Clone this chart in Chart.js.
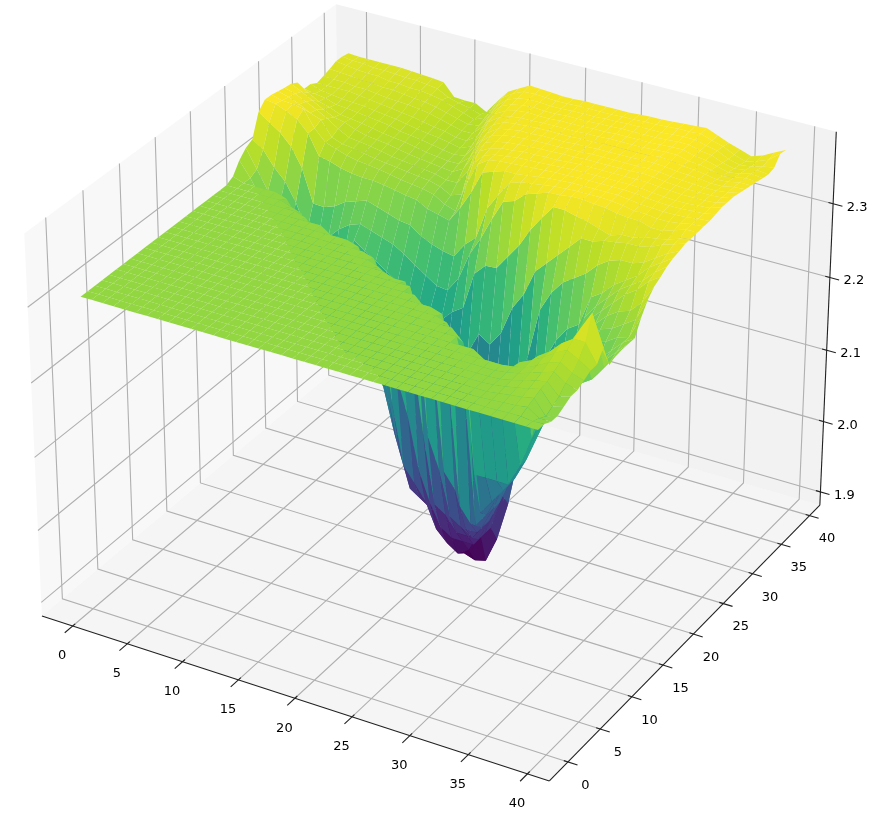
<!DOCTYPE html>
<html><head><meta charset="utf-8">
<style>html,body{margin:0;padding:0;background:#fff}canvas{display:block}</style>
<script src="https://cdn.jsdelivr.net/npm/chart.js@4/dist/chart.umd.min.js"></script>
</head><body><canvas id="c" width="872" height="818"></canvas>
<script>
const xTicks=[0,5,10,15,20,25,30,35,40];
const yTicks=[0,5,10,15,20,25,30,35,40];
const zTicks=[1.9,2.0,2.1,2.2,2.3];
const zTickLabels=["1.9","2.0","2.1","2.2","2.3"];
const xLim=[-2.84,41.84], yLim=[-2.84,41.84], zLim=[1.881,2.396];
const gridSpan=39;
// surface heights: one list per x position, each holding 41 y positions
const zColumns=[
[2.305,2.305,2.305,2.305,2.305,2.305,2.305,2.305,2.305,2.305, 2.305,2.305,2.305,2.305,2.305,2.305,2.305,2.305,2.305,2.305, 2.305,2.305,2.31,2.325,2.335,2.34,2.37,2.38,2.38,2.378, 2.376,2.375,2.37,2.355,2.355,2.35,2.353,2.356,2.36,2.36,2.358],
[2.305,2.305,2.305,2.305,2.305,2.305,2.305,2.305,2.305,2.305, 2.305,2.305,2.305,2.305,2.305,2.305,2.305,2.305,2.305,2.305, 2.305,2.305,2.305,2.305,2.31,2.33,2.36,2.378,2.376,2.374, 2.372,2.368,2.36,2.352,2.35,2.35,2.352,2.355,2.358,2.358,2.357],
[2.305,2.305,2.305,2.305,2.305,2.305,2.305,2.305,2.305,2.305, 2.305,2.305,2.305,2.305,2.305,2.305,2.305,2.305,2.305,2.305, 2.305,2.305,2.305,2.28,2.285,2.31,2.35,2.372,2.375,2.368, 2.365,2.36,2.352,2.35,2.348,2.35,2.352,2.354,2.356,2.358,2.357],
[2.305,2.305,2.305,2.305,2.305,2.305,2.305,2.305,2.305,2.305, 2.305,2.305,2.305,2.305,2.305,2.305,2.305,2.305,2.305,2.305, 2.305,2.305,2.305,2.26,2.265,2.295,2.335,2.365,2.372,2.36, 2.358,2.352,2.348,2.345,2.346,2.35,2.35,2.352,2.355,2.356,2.357],
[2.305,2.305,2.305,2.305,2.305,2.305,2.305,2.305,2.305,2.305, 2.305,2.305,2.305,2.305,2.305,2.305,2.305,2.305,2.305,2.305, 2.305,2.305,2.305,2.24,2.24,2.27,2.31,2.35,2.35,2.355, 2.35,2.345,2.342,2.344,2.345,2.348,2.35,2.352,2.355,2.356,2.357],
[2.305,2.305,2.305,2.305,2.305,2.305,2.305,2.305,2.305,2.305, 2.305,2.305,2.305,2.305,2.305,2.305,2.305,2.305,2.305,2.305, 2.305,2.305,2.30,2.21,2.21,2.235,2.266,2.323,2.335,2.335, 2.34,2.342,2.34,2.342,2.344,2.346,2.348,2.35,2.352,2.355,2.357],
[2.305,2.305,2.305,2.305,2.305,2.305,2.305,2.305,2.305,2.305, 2.305,2.305,2.305,2.305,2.305,2.305,2.305,2.305,2.305,2.305, 2.305,2.30,2.28,2.19,2.19,2.225,2.265,2.32,2.33,2.33, 2.332,2.336,2.338,2.34,2.342,2.344,2.346,2.35,2.352,2.354,2.356],
[2.305,2.305,2.305,2.305,2.305,2.305,2.305,2.305,2.305,2.305, 2.305,2.305,2.305,2.305,2.305,2.305,2.305,2.305,2.305,2.305, 2.305,2.295,2.24,2.16,2.19,2.235,2.27,2.315,2.325,2.328, 2.33,2.332,2.335,2.338,2.34,2.342,2.345,2.348,2.35,2.354,2.355],
[2.305,2.305,2.305,2.305,2.305,2.305,2.305,2.305,2.305,2.305, 2.305,2.305,2.305,2.305,2.305,2.305,2.305,2.305,2.305,2.305, 2.30,2.26,2.16,2.15,2.2,2.25,2.28,2.312,2.322,2.325, 2.328,2.33,2.332,2.336,2.338,2.34,2.344,2.346,2.35,2.352,2.354],
[2.305,2.305,2.305,2.305,2.305,2.305,2.305,2.305,2.305,2.305, 2.305,2.305,2.305,2.305,2.305,2.305,2.305,2.305,2.305,2.305, 2.285,2.17,2.14,2.16,2.22,2.26,2.285,2.31,2.32,2.322, 2.325,2.328,2.33,2.332,2.335,2.338,2.342,2.345,2.348,2.35,2.352],
[2.305,2.305,2.305,2.305,2.305,2.305,2.305,2.305,2.305,2.305, 2.305,2.305,2.305,2.305,2.305,2.305,2.305,2.305,2.305,2.305, 2.24,2.14,2.15,2.2,2.25,2.265,2.29,2.31,2.318,2.32, 2.322,2.325,2.328,2.33,2.332,2.335,2.34,2.342,2.345,2.342,2.336],
[2.305,2.305,2.305,2.305,2.305,2.305,2.305,2.305,2.305,2.305, 2.305,2.305,2.305,2.305,2.305,2.305,2.305,2.305,2.305,2.295, 2.16,2.12,2.13,2.19,2.24,2.26,2.285,2.308,2.315,2.318, 2.32,2.322,2.325,2.328,2.33,2.332,2.336,2.338,2.34,2.338,2.335],
[2.305,2.305,2.305,2.305,2.305,2.305,2.305,2.305,2.305,2.305, 2.305,2.305,2.305,2.305,2.305,2.305,2.305,2.305,2.305,2.29, 2.13,2.12,2.12,2.18,2.23,2.255,2.28,2.305,2.312,2.316, 2.318,2.32,2.322,2.325,2.328,2.33,2.332,2.334,2.335,2.335,2.335],
[2.305,2.305,2.305,2.305,2.305,2.305,2.305,2.305,2.305,2.305, 2.305,2.305,2.305,2.305,2.305,2.305,2.305,2.305,2.305,2.27, 2.13,2.11,2.11,2.17,2.22,2.25,2.275,2.302,2.31,2.314, 2.316,2.318,2.32,2.322,2.325,2.326,2.328,2.33,2.33,2.33,2.327],
[2.305,2.305,2.305,2.305,2.305,2.305,2.305,2.305,2.305,2.305, 2.305,2.305,2.305,2.305,2.305,2.305,2.305,2.305,2.30,2.25, 2.13,2.11,2.1,2.16,2.21,2.241,2.273,2.30,2.308,2.312, 2.314,2.316,2.318,2.32,2.322,2.325,2.328,2.332,2.336,2.34,2.345],
[2.305,2.305,2.305,2.305,2.305,2.305,2.305,2.305,2.305,2.305, 2.305,2.305,2.305,2.305,2.305,2.305,2.305,2.305,2.27,2.2, 2.1,2.07,2.09,2.15,2.2,2.23,2.262,2.292,2.304,2.308, 2.31,2.314,2.318,2.322,2.328,2.335,2.342,2.35,2.355,2.36,2.362],
[2.305,2.305,2.305,2.305,2.305,2.305,2.305,2.305,2.305,2.305, 2.305,2.305,2.305,2.305,2.305,2.305,2.305,2.30,2.2,2.1, 2.04,2.03,2.07,2.13,2.19,2.22,2.255,2.288,2.295,2.3, 2.31,2.322,2.33,2.34,2.35,2.358,2.362,2.366,2.368,2.37,2.37],
[2.305,2.305,2.305,2.305,2.305,2.305,2.305,2.305,2.305,2.305, 2.305,2.305,2.305,2.305,2.305,2.305,2.30,2.27,2.1,2.03, 1.99,2.0,2.05,2.12,2.185,2.21,2.25,2.284,2.29,2.305, 2.33,2.345,2.355,2.36,2.365,2.368,2.37,2.372,2.374,2.376,2.378],
[2.305,2.305,2.305,2.305,2.305,2.305,2.305,2.305,2.305,2.305, 2.305,2.305,2.305,2.305,2.305,2.305,2.29,2.15,2.02,1.98, 1.97,1.99,2.04,2.11,2.175,2.208,2.247,2.305,2.33,2.35, 2.36,2.365,2.368,2.37,2.372,2.373,2.374,2.375,2.376,2.377,2.377],
[2.305,2.305,2.305,2.305,2.305,2.305,2.305,2.305,2.305,2.305, 2.305,2.305,2.305,2.305,2.305,2.30,2.2,2.1,2.0,1.97, 1.96,1.985,2.05,2.12,2.19,2.228,2.267,2.33,2.36,2.365, 2.368,2.37,2.372,2.373,2.374,2.375,2.376,2.376,2.376,2.376,2.376],
[2.305,2.305,2.305,2.305,2.305,2.305,2.305,2.305,2.305,2.305, 2.305,2.305,2.305,2.305,2.305,2.30,2.2,2.03,1.98,1.96, 1.95,1.98,2.05,2.13,2.2,2.265,2.28,2.36,2.37,2.37, 2.372,2.373,2.374,2.375,2.375,2.375,2.375,2.375,2.375,2.375,2.375],
[2.305,2.305,2.305,2.305,2.305,2.305,2.305,2.305,2.305,2.305, 2.305,2.305,2.305,2.305,2.305,2.26,2.09,1.99,1.945,1.935, 1.94,1.98,2.06,2.15,2.25,2.29,2.323,2.365,2.372,2.372, 2.373,2.374,2.375,2.375,2.376,2.376,2.375,2.375,2.375,2.375,2.375],
[2.305,2.305,2.305,2.305,2.305,2.305,2.305,2.305,2.305,2.305, 2.305,2.305,2.305,2.305,2.26,2.1,2.0,1.96,1.93,1.925, 1.94,1.99,2.08,2.18,2.265,2.32,2.345,2.37,2.373,2.374, 2.375,2.375,2.376,2.376,2.376,2.376,2.376,2.376,2.376,2.376,2.376],
[2.305,2.305,2.305,2.305,2.305,2.305,2.305,2.305,2.305,2.305, 2.305,2.305,2.305,2.29,2.22,2.06,1.99,1.95,1.92,1.912, 1.935,2.0,2.08,2.17,2.266,2.347,2.365,2.37,2.374,2.375, 2.375,2.376,2.376,2.376,2.376,2.376,2.376,2.376,2.376,2.376,2.376],
[2.305,2.305,2.305,2.305,2.305,2.305,2.305,2.305,2.305,2.305, 2.305,2.305,2.305,2.26,2.07,2.0,1.97,1.95,1.93,1.907, 1.94,2.01,2.09,2.19,2.285,2.352,2.37,2.372,2.375,2.375, 2.376,2.376,2.376,2.376,2.376,2.376,2.376,2.376,2.376,2.376,2.376],
[2.305,2.305,2.305,2.305,2.305,2.305,2.305,2.305,2.305,2.305, 2.305,2.305,2.30,2.2,2.05,1.99,1.97,1.95,1.96,1.911, 1.95,2.03,2.1,2.228,2.304,2.365,2.372,2.374,2.376,2.376, 2.376,2.377,2.377,2.377,2.377,2.377,2.377,2.377,2.377,2.376,2.376],
[2.305,2.305,2.305,2.305,2.305,2.305,2.305,2.305,2.305,2.305, 2.305,2.30,2.25,2.04,2.0,1.98,1.97,1.97,1.97,1.946, 1.99,2.06,2.13,2.25,2.329,2.37,2.374,2.376,2.377,2.377, 2.377,2.377,2.377,2.377,2.377,2.377,2.377,2.377,2.377,2.377,2.376],
[2.305,2.305,2.305,2.305,2.305,2.305,2.305,2.305,2.305,2.305, 2.305,2.28,2.2,2.02,2.0,2.0,2.0,2.01,2.02,2.0, 2.04,2.09,2.18,2.285,2.349,2.375,2.376,2.377,2.377,2.378, 2.378,2.378,2.378,2.378,2.378,2.378,2.378,2.378,2.378,2.377,2.377],
[2.305,2.305,2.305,2.305,2.305,2.305,2.305,2.305,2.305,2.305, 2.29,2.2,2.03,2.02,2.02,2.03,2.04,2.05,2.06,2.077, 2.09,2.14,2.245,2.30,2.367,2.376,2.377,2.378,2.378,2.378, 2.378,2.378,2.378,2.378,2.378,2.378,2.378,2.378,2.378,2.378,2.378],
[2.305,2.305,2.305,2.305,2.305,2.305,2.305,2.305,2.305,2.25, 2.12,2.06,2.05,2.05,2.05,2.06,2.07,2.08,2.09,2.113, 2.14,2.19,2.272,2.315,2.367,2.378,2.378,2.378,2.378,2.378, 2.378,2.378,2.378,2.378,2.378,2.378,2.378,2.378,2.378,2.378,2.378],
[2.305,2.305,2.305,2.305,2.305,2.305,2.305,2.305,2.305,2.215, 2.12,2.08,2.08,2.09,2.1,2.11,2.12,2.14,2.15,2.16, 2.18,2.22,2.29,2.33,2.363,2.378,2.378,2.378,2.378,2.378, 2.378,2.378,2.378,2.378,2.378,2.378,2.378,2.378,2.378,2.379,2.379],
[2.305,2.305,2.305,2.305,2.305,2.305,2.305,2.305,2.295,2.215, 2.12,2.1,2.1,2.11,2.12,2.14,2.16,2.18,2.19,2.19, 2.2,2.24,2.30,2.345,2.36,2.376,2.378,2.378,2.378,2.378, 2.378,2.378,2.378,2.379,2.379,2.379,2.379,2.379,2.379,2.38,2.38],
[2.305,2.305,2.305,2.305,2.305,2.305,2.305,2.305,2.29,2.215, 2.12,2.12,2.13,2.14,2.15,2.17,2.19,2.2,2.21,2.215, 2.22,2.25,2.31,2.345,2.355,2.375,2.377,2.378,2.378,2.378, 2.378,2.379,2.379,2.379,2.38,2.38,2.38,2.38,2.38,2.38,2.381],
[2.305,2.305,2.305,2.305,2.305,2.305,2.305,2.305,2.29,2.22, 2.15,2.15,2.16,2.17,2.18,2.19,2.21,2.23,2.25,2.26, 2.27,2.29,2.325,2.35,2.35,2.372,2.375,2.376,2.377,2.377, 2.378,2.378,2.378,2.378,2.379,2.38,2.38,2.38,2.38,2.381,2.382],
[2.305,2.305,2.305,2.305,2.306,2.306,2.307,2.307,2.305,2.25, 2.19,2.2,2.21,2.21,2.215,2.22,2.24,2.255,2.27,2.28, 2.29,2.30,2.335,2.352,2.355,2.37,2.372,2.374,2.375,2.375, 2.376,2.376,2.376,2.376,2.376,2.376,2.376,2.376,2.376,2.376,2.376],
[2.305,2.305,2.306,2.307,2.308,2.309,2.31,2.31,2.312,2.31, 2.26,2.24,2.23,2.23,2.23,2.235,2.26,2.275,2.285,2.295, 2.305,2.315,2.34,2.355,2.355,2.37,2.372,2.373,2.374,2.374, 2.375,2.375,2.375,2.375,2.375,2.375,2.374,2.374,2.373,2.372,2.37],
[2.305,2.305,2.307,2.309,2.311,2.313,2.315,2.317,2.32,2.32, 2.30,2.26,2.25,2.245,2.245,2.25,2.28,2.29,2.30,2.31, 2.32,2.325,2.34,2.355,2.36,2.365,2.37,2.372,2.373,2.373, 2.374,2.374,2.374,2.374,2.373,2.372,2.37,2.368,2.366,2.365,2.365],
[2.305,2.306,2.308,2.311,2.314,2.317,2.32,2.325,2.33,2.335, 2.325,2.28,2.26,2.26,2.26,2.27,2.285,2.295,2.31,2.325, 2.33,2.335,2.345,2.358,2.362,2.365,2.37,2.372,2.373,2.373, 2.374,2.374,2.373,2.372,2.37,2.368,2.366,2.364,2.362,2.36,2.36],
[2.305,2.306,2.31,2.314,2.318,2.32,2.325,2.33,2.338,2.345, 2.35,2.30,2.27,2.27,2.28,2.285,2.295,2.305,2.315,2.335, 2.34,2.35,2.355,2.365,2.365,2.37,2.372,2.373,2.374,2.374, 2.374,2.374,2.373,2.372,2.371,2.37,2.368,2.366,2.364,2.364,2.365],
[2.305,2.304,2.30,2.295,2.30,2.305,2.315,2.32,2.33,2.345, 2.375,2.33,2.29,2.29,2.295,2.30,2.30,2.315,2.33,2.35, 2.355,2.36,2.365,2.37,2.37,2.375,2.375,2.375,2.375,2.375, 2.375,2.375,2.375,2.375,2.374,2.373,2.372,2.37,2.368,2.37,2.373],
[2.305,2.305,2.30,2.30,2.305,2.31,2.31,2.315,2.32,2.32, 2.335,2.305,2.31,2.31,2.31,2.31,2.33,2.345,2.355,2.36, 2.366,2.37,2.372,2.375,2.375,2.375,2.376,2.376,2.378,2.38, 2.38,2.38,2.378,2.376,2.374,2.372,2.37,2.368,2.37,2.382,2.38]
];

// view geometry (elevation 30, azimuth -60, box 4:4:3, camera distance 10)
const boxSize=[1.1429,1.1429,0.8571];
const U=[0.866,0.5,0], V=[-0.25,0.433,0.866], W=[0.433,-0.75,0.5];
const norm=(v,l,s)=>((v-l[0])/(l[1]-l[0])-0.5)*s;
function proj(x,y,z){
  const q=[norm(x,xLim,boxSize[0]),norm(y,yLim,boxSize[1]),norm(z,zLim,boxSize[2])];
  const d=10-(W[0]*q[0]+W[1]*q[1]+W[2]*q[2]);
  return {x:(U[0]*q[0]+U[1]*q[1])/d, y:(V[0]*q[0]+V[1]*q[1]+V[2]*q[2])/d, d};
}
const viridis=[[68,1,84],[72,36,117],[65,68,135],[53,95,141],[42,120,142],[33,145,140],[34,168,132],[68,191,112],[122,209,81],[189,223,38],[253,231,37]];
function cmap(t){t=Math.max(0,Math.min(1,t))*10;const i=Math.min(9,Math.floor(t)),f=t-i,a=viridis[i],b=viridis[i+1];
  return `rgb(${[0,1,2].map(k=>Math.round(a[k]+(b[k]-a[k])*f)).join(',')})`;}

const line=(pts,color,width)=>({data:pts.map(p=>{const r=proj(p[0],p[1],p[2]);return {x:r.x,y:r.y};}),showLine:true,borderColor:color,borderWidth:width,pointRadius:0,clip:false,fill:false});
const poly=(pts,color)=>({polygon:true,data:pts.map(p=>{const r=proj(p[0],p[1],p[2]);return {x:r.x,y:r.y};}),backgroundColor:color,borderWidth:0,pointRadius:0,clip:false});

const [x0,x1]=xLim,[y0,y1]=yLim,[z0,z1]=zLim;
const back=[];
back.push(poly([[x0,y0,z0],[x1,y0,z0],[x1,y1,z0],[x0,y1,z0]],'rgba(236,236,236,0.5)'));
back.push(poly([[x0,y0,z0],[x0,y1,z0],[x0,y1,z1],[x0,y0,z1]],'rgba(242,242,242,0.5)'));
back.push(poly([[x0,y1,z0],[x1,y1,z0],[x1,y1,z1],[x0,y1,z1]],'rgba(230,230,230,0.5)'));
const GRID='#b0b0b0',GW=1.1;
xTicks.forEach(t=>back.push(line([[t,y0,z0],[t,y1,z0],[t,y1,z1]],GRID,GW)));
yTicks.forEach(t=>back.push(line([[x1,t,z0],[x0,t,z0],[x0,t,z1]],GRID,GW)));
zTicks.forEach(t=>back.push(line([[x0,y0,t],[x0,y1,t],[x1,y1,t]],GRID,GW)));
back.push(line([[x0,y0,z0],[x1,y0,z0]],'#222',1.1));
back.push(line([[x1,y0,z0],[x1,y1,z0]],'#222',1.1));
back.push(line([[x1,y1,z0],[x1,y1,z1]],'#222',1.1));
xTicks.forEach(t=>back.push(line([[t,y0+0.35,z0],[t,y0-1.1,z0]],'#222',1.1)));
yTicks.forEach(t=>back.push(line([[x1-0.35,t,z0],[x1+0.8,t,z0]],'#222',1.1)));
zTicks.forEach(t=>back.push(line([[x1-0.4,y1,t],[x1+0.8,y1,t]],'#222',1.1)));

const cells=[];
const nCells=zColumns.length-1, pos=i=>i*gridSpan/nCells;
for(let i=0;i<nCells;i++)for(let j=0;j<nCells;j++){
  const c=[[pos(i),pos(j),zColumns[i][j]],[pos(i+1),pos(j),zColumns[i+1][j]],[pos(i+1),pos(j+1),zColumns[i+1][j+1]],[pos(i),pos(j+1),zColumns[i][j+1]]];
  cells.push({c,avg:c.reduce((s,p)=>s+p[2],0)/4,depth:c.reduce((s,p)=>s+proj(p[0],p[1],p[2]).d,0)/4});
}
const lo=Math.min(...cells.map(c=>c.avg)),hi=Math.max(...cells.map(c=>c.avg));
cells.sort((a,b)=>a.depth-b.depth); // nearest first: Chart.js paints the first dataset last
const surface=cells.map(c=>poly(c.c,cmap((c.avg-lo)/(hi-lo))));

const datasets=[...surface,...back.reverse()];

const polygonPlugin={id:'polygonFill',beforeDatasetDraw(chart,args){
  const ds=chart.data.datasets[args.index];
  if(!ds.polygon)return;
  const pts=args.meta.data,ctx=chart.ctx;
  ctx.beginPath();ctx.moveTo(pts[0].x,pts[0].y);
  for(let i=1;i<pts.length;i++)ctx.lineTo(pts[i].x,pts[i].y);
  ctx.closePath();ctx.fillStyle=ds.backgroundColor;ctx.fill();
  return false;
}};
const labelsPlugin={id:'axisLabels',afterDatasetsDraw(chart){
  const ctx=chart.ctx,sx=chart.scales.x,sy=chart.scales.y;
  ctx.save();ctx.fillStyle='#000';ctx.font='13px "DejaVu Sans"';ctx.textAlign='center';ctx.textBaseline='middle';
  const put=(p,dx,dy,s)=>{const r=proj(p[0],p[1],p[2]);ctx.fillText(s,sx.getPixelForValue(r.x)+dx,sy.getPixelForValue(r.y)+dy);};
  xTicks.forEach(t=>put([t,y0,z0],-10.5,30,String(t)));
  yTicks.forEach(t=>put([x1,t,z0],17.5,23.5,String(t)));
  zTicks.forEach((t,i)=>put([x1,y1,t],24,3.5,zTickLabels[i]));
  ctx.restore();
}};
new Chart(document.getElementById('c'),{
  type:'scatter',
  data:{datasets},
  options:{responsive:false,animation:false,events:[],layout:{padding:0},
    plugins:{legend:{display:false},tooltip:{enabled:false}},
    scales:{x:{type:'linear',display:false,min:-0.08604,max:0.08534},y:{type:'linear',display:false,min:-0.0871,max:0.0736}}},
  plugins:[polygonPlugin,labelsPlugin]
});
</script></body></html>
